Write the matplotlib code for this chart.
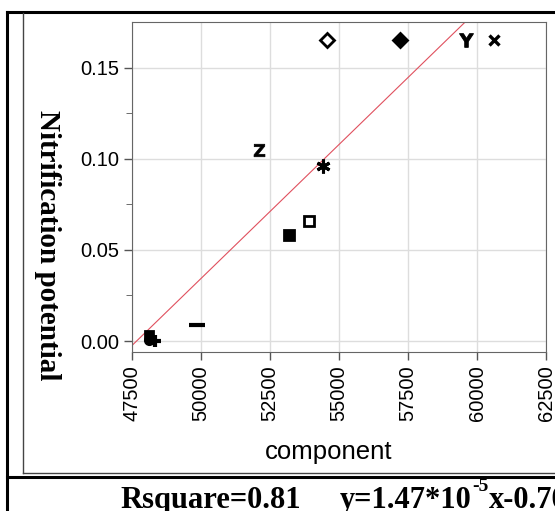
import matplotlib.pyplot as plt
from matplotlib.lines import Line2D

plt.rcParams['font.family'] = 'Liberation Sans'
plt.rcParams['mathtext.fontset'] = 'custom'
plt.rcParams['mathtext.sf'] = 'DejaVu Sans:bold'

# values
component = [54550, 57210, 59600, 60620, 52110, 54430, 53910, 53190, 49840, 48130, 48130, 48330]
nitrification = [0.165, 0.165, 0.165, 0.165, 0.105, 0.096, 0.066, 0.058, 0.009, 0.0035, 0.0005, 0.0]
markers = ['D', 'D', r'$\mathsf{Y}$', 'x', r'$\mathsf{Z}$', (6, 2, 0), 's', 's', '_', 's', 'o', '+']
filled = [False, True, True, True, True, True, False, True, True, True, True, True]
sizes = [7, 7, 10, 7.5, 9, 10, 7, 7, 12, 6, 6, 9]
edges = [2.0, 2.0, 0.7, 2.4, 0.5, 2.2, 2.0, 2.0, 3.0, 2.0, 2.0, 3.0]

slope = 1.47e-5
intercept = -0.7007
xticks = [47500, 50000, 52500, 55000, 57500, 60000, 62500]
yticks = [0.00, 0.05, 0.10, 0.15]

fig = plt.figure(figsize=(5.55, 5.11), dpi=100)
ax = fig.add_axes([0.2378, 0.3112, 0.746, 0.6457])

for x, y, m, f, s, e in zip(component, nitrification, markers, filled, sizes, edges):
    ax.plot(x, y, marker=m, markersize=s, color='black',
            markerfacecolor='black' if f else 'white',
            markeredgewidth=e, linestyle='none', zorder=3)

xs = [47500, 62500]
ax.plot(xs, [slope * v + intercept for v in xs], color='#e0505e', lw=0.8, zorder=2)

ax.set_xlim(47500, 62500)
ax.set_ylim(-0.006, 0.175)
ax.set_xticks(xticks)
ax.set_xticklabels([str(t) for t in xticks], rotation=90, fontsize=14.5)
ax.set_yticks(yticks)
ax.set_yticklabels(['%.2f' % t for t in yticks], fontsize=14.5)
ax.set_yticks([0.025, 0.075, 0.125], minor=True)
ax.grid(True, color='#dddddd', lw=1)
ax.set_axisbelow(True)
ax.tick_params(length=6, width=1, color='#555555')
ax.tick_params(which='minor', length=4, color='#555555')
for sp in ax.spines.values():
    sp.set_color('#666666')

ax.set_xlabel('component', fontsize=18.5, va='baseline')
ax.xaxis.set_label_coords(0.475, -0.324)
ax.set_ylabel('Nitrification potential', fontsize=21, fontweight='bold',
              family='Liberation Serif', rotation=-90, va='center')
ax.yaxis.set_label_coords(-0.203, 0.325)

# frame lines around the panel
H = 511.0
W = 555.0
fig.add_artist(Line2D([7 / W, 7 / W], [0, 1 - 12 / H], color='black', lw=2.2))
fig.add_artist(Line2D([7 / W, 1], [1 - 12 / H, 1 - 12 / H], color='black', lw=2.2))
fig.add_artist(Line2D([23 / W, 23 / W], [1 - 473 / H, 1 - 13 / H], color='#444444', lw=1))
fig.add_artist(Line2D([23 / W, 1], [1 - 473 / H, 1 - 473 / H], color='#444444', lw=1))
fig.add_artist(Line2D([7 / W, 1], [1 - 476.5 / H, 1 - 476.5 / H], color='black', lw=2.2))

serif = dict(fontsize=22, fontweight='bold', family='Liberation Serif')
fig.text(120 / W, 1 - 508 / H, 'Rsquare=0.81', **serif)
fig.text(340 / W, 1 - 508 / H, 'y=1.47*10', **serif)
fig.text(472 / W, 1 - 491 / H, '-5', fontsize=14, fontweight='bold', family='Liberation Serif')
fig.text(489 / W, 1 - 508 / H, 'x-0.70', **serif)

fig.savefig('out.png', dpi=100)
